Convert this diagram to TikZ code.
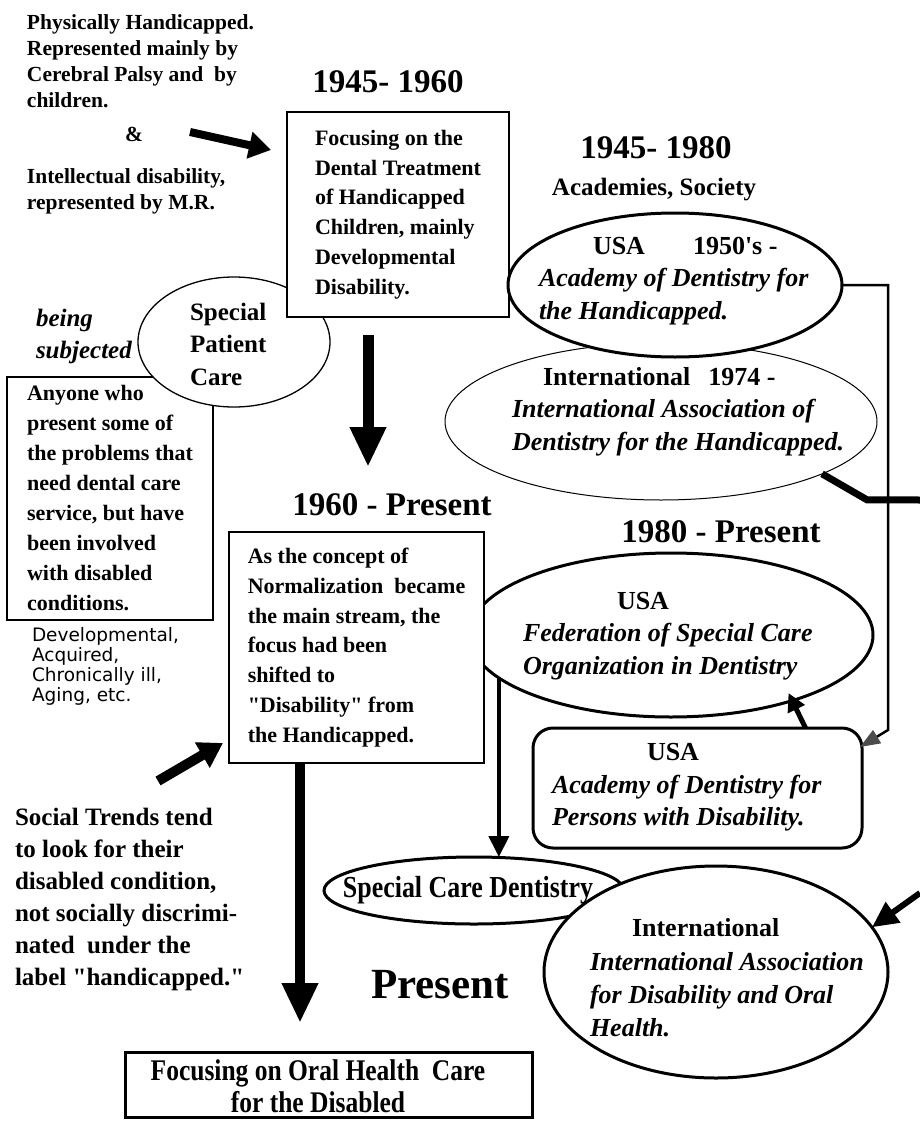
\documentclass[tikz,border=0pt]{standalone}
\usepackage{fontspec}
\setmainfont{Liberation Serif}[Ligatures=TeXOff]
\newfontfamily\gothicfont{DejaVu Sans}
\newfontfamily\narrowfont[FakeStretch=0.85,Ligatures=TeXOff]{Liberation Serif}
\usetikzlibrary{arrows.meta, shapes.geometric}

\begin{document}
\begin{tikzpicture}[
  x=1pt, y=-1pt,
  every node/.style={inner sep=0pt, outer sep=0pt},
  txt/.style={font=\fontsize{21.5}{26}\selectfont\bfseries, align=left},
  boxtxt/.style={font=\fontsize{22}{29.7}\selectfont\bfseries, align=left},
  yeartxt/.style={font=\fontsize{33}{36}\selectfont\bfseries},
  orgtxt/.style={font=\fontsize{26}{32.5}\selectfont\bfseries, align=left},
  thinbox/.style={draw, fill=white, line width=1.4pt},
  oval/.style={draw, fill=white, ellipse, line width=3pt},
  fatarrow/.style={line width=8pt, -{Triangle[length=22pt,width=26pt]}},
  bigdown/.style={line width=11pt, -{Triangle[length=40pt,width=34pt]}},
  link/.style={line width=2.5pt},
]
\fill[white] (0,0) rectangle (920,1124);
\useasboundingbox (0,0) rectangle (920,1124);

\node[txt, anchor=west] (phys) at (27,61) {Physically Handicapped.\\Represented mainly by\\Cerebral Palsy and\ \ by\\children.};
\node[txt] (amp) at (134,134) {\&};
\node[txt, anchor=west] (intel) at (27,191.5) {Intellectual disability,\\represented by M.R.};
\coordinate (a1s) at (190,132);
\coordinate (a1e) at (271,150);
\draw[fatarrow] (a1s) -- (a1e);

\node[thinbox, boxtxt, font=\fontsize{22}{30}\selectfont\bfseries, minimum width=206pt, minimum height=243pt] (anyone) at (110,498.5) {Anyone who\\present some of\\the problems that\\need dental care\\service, but have\\been involved\\with disabled\\conditions.};
\node[draw, fill=white, ellipse, line width=1.3pt, minimum width=192pt, minimum height=130pt] (spc) at (234,342) {};
\node[font=\fontsize{25}{32.5}\selectfont\bfseries, align=left, anchor=west] (spctxt) at (190,344) {Special\\Patient\\Care};
\node[font=\fontsize{25}{32}\selectfont\bfseries\itshape, align=left, anchor=west] (subj) at (36,336) {being\\subjected};
\node[font=\gothicfont\fontsize{18.5}{20}\selectfont, align=left, anchor=west] (kinds) at (32,666) {Developmental,\\Acquired,\\Chronically ill,\\Aging, etc.};

\node[yeartxt] (y4560) at (388,82) {1945- 1960};
\node[thinbox, boxtxt, minimum width=222pt, minimum height=205pt] (focus) at (398,214.5) {Focusing on the\\Dental Treatment\\of Handicapped\\Children, mainly\\Developmental\\Disability.};
\draw[bigdown] ([shift={(-30,18)}]focus.south) -- ++(0,132);

\node[yeartxt] (y4580) at (656,148) {1945- 1980};
\node[font=\fontsize{25}{28}\selectfont\bfseries] (acad) at (654,190) {Academies, Society};
\node[draw, fill=white, ellipse, line width=1pt, minimum width=432pt, minimum height=157pt] (iadh) at (661,421.5) {};
\node[orgtxt, anchor=west] (iadhtxt) at (512,411.5) {\hspace*{31pt}International\hspace*{18pt}1974 -\\\textit{International Association of}\\\textit{Dentistry for the Handicapped.}};
\node[oval, minimum width=334pt, minimum height=144pt] (adh) at (675,285) {};
\node[orgtxt, anchor=west] (adhtxt) at (539,281) {\hspace*{54pt}USA\hspace*{48pt}1950's -\\\textit{Academy of Dentistry for}\\\textit{the Handicapped.}};

\node[yeartxt] (y60) at (392,505) {1960 - Present};
\node[yeartxt] (y80) at (721,532) {1980 - Present};
\node[oval, minimum width=404pt, minimum height=164pt] (fscd) at (671,635) {};
\node[orgtxt, anchor=west] (fscdtxt) at (523,636) {\hspace*{94pt}USA\\\textit{Federation of Special Care}\\\textit{Organization in Dentistry}};
\node[thinbox, boxtxt, font=\fontsize{22}{29.8}\selectfont\bfseries, minimum width=255pt, minimum height=231pt] (norm) at (356.5,647.5) {As the concept of\\Normalization\ \ became\\the main stream, the\\focus had been\\shifted to\\"Disability" from\\the Handicapped.};

\node[draw, fill=white, rounded corners=20pt, line width=3pt, minimum width=329pt, minimum height=120pt] (adpd) at (697.5,788) {};
\node[orgtxt, anchor=west] (adpdtxt) at (552,787.5) {\hspace*{95pt}USA\\\textit{Academy of Dentistry for}\\\textit{Persons with Disability.}};

\node[oval, minimum width=300pt, minimum height=67pt] (scd) at (474,890.5) {};
\node[font=\narrowfont\fontsize{30.5}{34}\selectfont\bfseries] (scdtxt) at (468,890.5) {Special Care Dentistry};

\node[font=\fontsize{43}{46}\selectfont\bfseries] (now) at (440,985) {Present};
\node[oval, minimum width=344pt, minimum height=212pt] (iaoh) at (716,972) {};
\node[orgtxt, font=\fontsize{26}{33.3}\selectfont\bfseries, anchor=west] (iaohtxt) at (590,978) {\hspace*{42pt}International\\\textit{International Association}\\\textit{for Disability and Oral}\\\textit{Health.}};

\node[draw, fill=white, line width=3pt, minimum width=407pt, minimum height=65pt] (ohc) at (328.5,1084.5) {};
\node[font=\narrowfont\fontsize{30}{32}\selectfont\bfseries, align=center] (ohctxt) at (318,1086) {Focusing on Oral Health\ \ Care\\for the Disabled};

\node[font=\fontsize{25}{32}\selectfont\bfseries, align=left, anchor=west] (trend) at (15,899) {Social Trends tend\\to look for their\\disabled condition,\\not socially discrimi-\\nated\ \ under the\\label "handicapped."};
\coordinate (st1) at (158,781);
\coordinate (st2) at (223,743);
\draw[line width=10pt, -{Triangle[length=24pt,width=28pt]}] (st1) -- (st2);
\draw[bigdown, line width=10pt] ([shift={(-56.5,0)}]norm.south) -- ++(0,260);

% links between the societies
\coordinate (c1) at (888,730);
\draw[link, -{Triangle[length=20pt,width=15pt,color=black!70]}] (adh.east) -| (c1) -- ([shift={(-2,19)}]adpd.north east);
\coordinate (e2out) at (920,500);
\draw[line width=7pt] (iadh.-18) -- ++(45,26) -- (e2out);
\coordinate (e2in) at (920,893);
\draw[line width=6pt, -{Triangle[length=26pt,width=24pt]}] (e2in) -- (iaoh.16);
\draw[line width=5pt, -{Triangle[length=18pt,width=18pt]}] ([shift={(108,0)}]adpd.north) -- ([shift={(91,-35)}]adpd.north);
\draw[line width=4pt, -{Triangle[length=21pt,width=20pt]}] (fscd.194) -- (fscd.194 |- scd.north);
\end{tikzpicture}
\end{document}
